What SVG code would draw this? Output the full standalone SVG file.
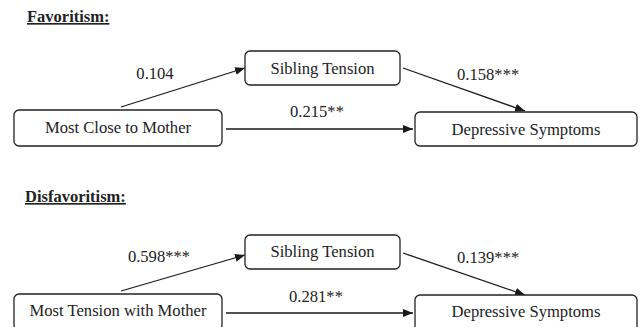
<svg xmlns="http://www.w3.org/2000/svg" width="640" height="327" viewBox="0 0 640 327">
<defs>
<marker id="ah" markerUnits="userSpaceOnUse" markerWidth="10" markerHeight="8" refX="10" refY="4" orient="auto">
<path d="M0,0 L10,4 L0,8 z" fill="#1a1a1a"/>
</marker>
<style>
.box{fill:#fff;stroke:#222;stroke-width:1.3}
.t{font-family:"Liberation Serif","Times New Roman",serif;font-size:16.6px;fill:#222}
.c{text-anchor:middle}
.h{font-family:"Liberation Serif","Times New Roman",serif;font-size:16.5px;font-weight:bold;fill:#222;text-decoration:underline}
.e{stroke:#1a1a1a;stroke-width:1.3;fill:none;marker-end:url(#ah)}
</style>
</defs>
<rect width="640" height="327" fill="#fff"/>
<text class="h" x="27" y="22">Favoritism:</text>
<text class="h" x="25" y="202">Disfavoritism:</text>
<g id="connectors">
<line class="e" x1="121" y1="107" x2="245" y2="68"/>
<line class="e" x1="403" y1="68" x2="525" y2="111"/>
<line class="e" x1="226" y1="129" x2="413" y2="129"/>
<line class="e" x1="121" y1="291" x2="245" y2="255"/>
<line class="e" x1="403" y1="253" x2="525" y2="295"/>
<line class="e" x1="226" y1="313" x2="413" y2="313"/>
<text class="t c" x="155" y="79">0.104</text>
<text class="t" x="457" y="80">0.158***</text>
<text class="t" x="290" y="117">0.215**</text>
<text class="t c" x="159" y="262">0.598***</text>
<text class="t" x="457" y="263">0.139***</text>
<text class="t" x="289" y="302">0.281**</text>
</g>
<g id="fav-sibling">
<rect class="box" x="245" y="51" width="155" height="34" rx="5"/>
<text class="t c" x="322.5" y="74">Sibling Tension</text>
</g>
<g id="fav-close">
<rect class="box" x="14" y="110" width="208" height="36" rx="5"/>
<text class="t c" x="118" y="133">Most Close to Mother</text>
</g>
<g id="fav-dep">
<rect class="box" x="415" y="112" width="222" height="34" rx="5"/>
<text class="t c" x="526" y="135">Depressive Symptoms</text>
</g>
<g id="dis-sibling">
<rect class="box" x="245" y="235" width="155" height="34" rx="5"/>
<text class="t c" x="322.5" y="257">Sibling Tension</text>
</g>
<g id="dis-tension">
<rect class="box" x="14" y="294" width="208" height="36" rx="5"/>
<text class="t c" x="118" y="316">Most Tension with Mother</text>
</g>
<g id="dis-dep">
<rect class="box" x="415" y="295" width="222" height="36" rx="5"/>
<text class="t c" x="526" y="317">Depressive Symptoms</text>
</g>
</svg>
